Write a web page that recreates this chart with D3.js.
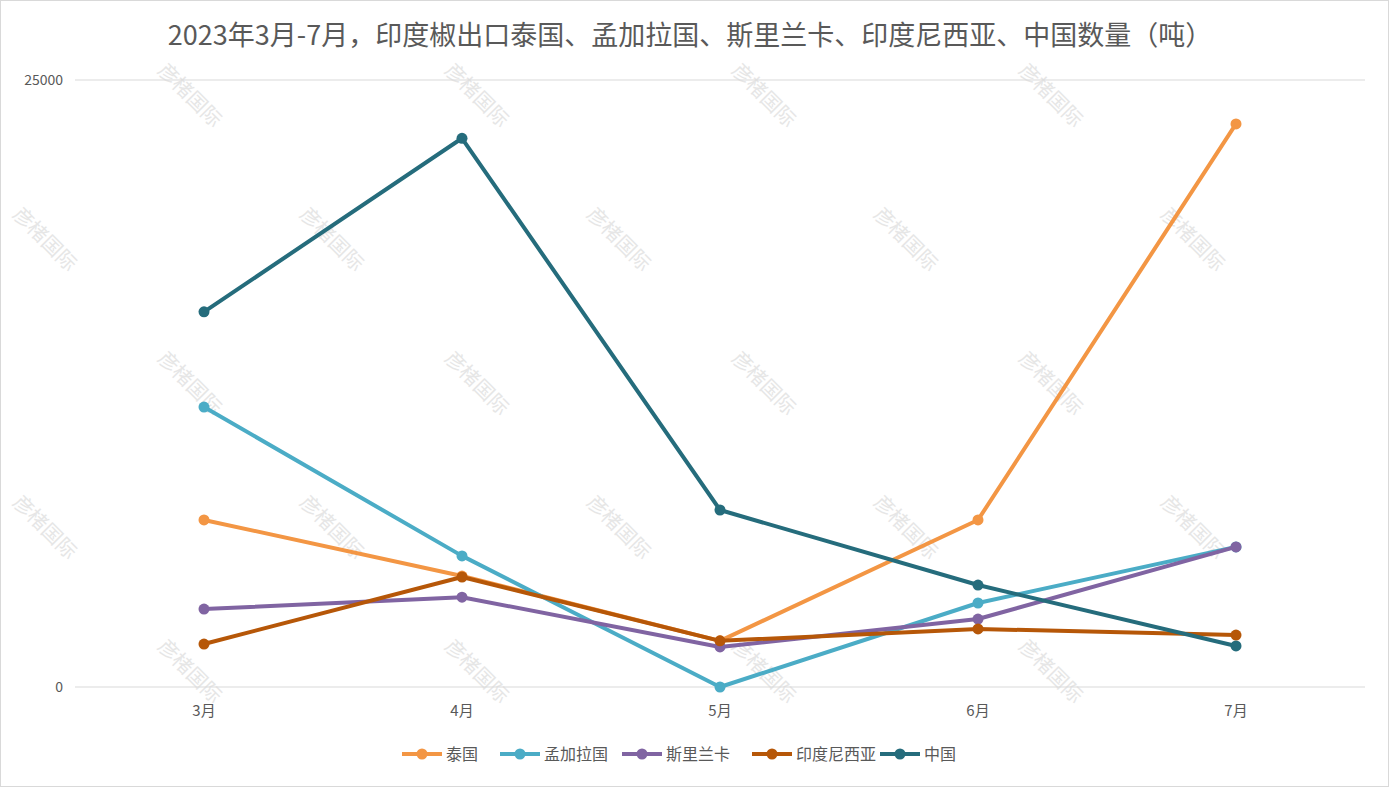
<!DOCTYPE html><html><head><meta charset="utf-8">
<script src="https://cdn.jsdelivr.net/npm/d3@7/dist/d3.min.js"></script>
<style>body{margin:0;background:#fff}svg{font-family:"Noto Sans CJK SC","Noto Sans",sans-serif}</style></head><body>
<script>
const months=["3月","4月","5月","6月","7月"];
const seriesNames=["泰国","孟加拉国","斯里兰卡","印度尼西亚","中国"];
const colors=["#F39644","#4BACC6","#8064A2","#B65708","#256C7C"];
const thailand=[6880,4570,1900,6880,23190];
const bangladesh=[11530,5400,0,3460,5770];
const sriLanka=[3210,3700,1650,2800,5770];
const indonesia=[1770,4530,1900,2390,2140];
const china=[15450,22600,7290,4200,1690];
const yTicks=[0,25000];
const allSeries=[thailand,bangladesh,sriLanka,indonesia,china];

const W=1389,H=787;
const svg=d3.select("body").append("svg").attr("width",W).attr("height",H);
svg.append("rect").attr("x",0.5).attr("y",0.5).attr("width",W-1).attr("height",H-1).attr("fill","#fff").attr("stroke","#d9d9d9");
const wm=svg.append("g");
for(let r=0;r<5;r++)for(let c=0;c<5;c++){
  const x=(r%2?40:185)+c*287, y=100+r*144;
  if(x>1330) continue;
  wm.append("text").attr("transform",`translate(${x},${y}) rotate(45)`).attr("text-anchor","middle")
    .attr("font-size",20).attr("fill","#e6e6e6").text("彦楮国际");
}
const x=d3.scalePoint().domain(months).range([75,1365]).padding(0.5);
const y=d3.scaleLinear().domain([0,25000]).range([687,80]);
svg.append("g").selectAll("line").data(yTicks).join("line").attr("x1",75).attr("x2",1365)
  .attr("y1",d=>y(d)).attr("y2",d=>y(d)).attr("stroke","#d9d9d9");
svg.append("g").selectAll("text").data(yTicks).join("text").attr("x",63).attr("y",d=>y(d)+5)
  .attr("text-anchor","end").attr("font-size",14).attr("fill","#595959").text(d=>d);
svg.append("g").selectAll("text").data(months).join("text").attr("x",d=>x(d)).attr("y",716)
  .attr("text-anchor","middle").attr("font-size",15).attr("fill","#595959").text(d=>d);
svg.append("text").attr("x",690).attr("y",45).attr("text-anchor","middle").attr("font-size",27).attr("fill","#595959")
  .text("2023年3月-7月，印度椒出口泰国、孟加拉国、斯里兰卡、印度尼西亚、中国数量（吨）");
const line=d3.line().x((d,i)=>x(months[i])).y(d=>y(d));
allSeries.forEach((s,k)=>{
  const g=svg.append("g");
  g.append("path").attr("d",line(s)).attr("fill","none").attr("stroke",colors[k]).attr("stroke-width",4).attr("stroke-linejoin","round");
  g.selectAll("circle").data(s).join("circle").attr("cx",(d,i)=>x(months[i])).attr("cy",d=>y(d)).attr("r",5.5).attr("fill",colors[k]);
});
const lx=[402,500,622,752,880];
seriesNames.forEach((n,k)=>{
  const g=svg.append("g").attr("transform",`translate(${lx[k]},754)`);
  g.append("line").attr("x1",0).attr("x2",40).attr("stroke",colors[k]).attr("stroke-width",4);
  g.append("circle").attr("cx",20).attr("r",5.5).attr("fill",colors[k]);
  g.append("text").attr("x",44).attr("y",6).attr("font-size",16).attr("fill","#595959").text(n);
});
</script></body></html>
